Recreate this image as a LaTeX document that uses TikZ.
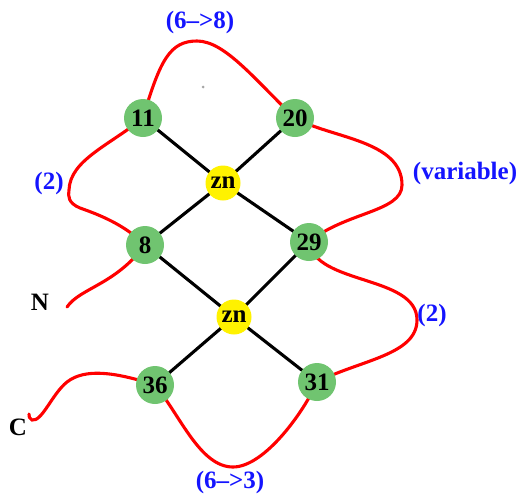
\documentclass[tikz,border=0pt]{standalone}
\usepackage{fontspec}
\setmainfont{Liberation Serif}
\definecolor{resgreen}{RGB}{112,196,112}
\definecolor{lblblue}{RGB}{20,20,255}
\definecolor{loopred}{RGB}{255,0,0}
\pgfdeclarelayer{back}
\pgfsetlayers{back,main}
\begin{document}
\begin{tikzpicture}[x=1pt,y=-1pt,
  res/.style={circle,fill=resgreen,minimum size=38pt,inner sep=0pt,font=\fontsize{25}{29}\selectfont\bfseries},
  zinc/.style={circle,fill=yellow,minimum size=35pt,inner sep=0pt,font=\fontsize{25}{29}\selectfont\bfseries},
  bond/.style={line width=3.1pt,black},
  chain/.style={line width=3.1pt,loopred,line cap=round},
  lbl/.style={text=lblblue,font=\fontsize{25}{29}\selectfont\bfseries,inner sep=0pt},
  term/.style={text=black,font=\fontsize{25}{29}\selectfont\bfseries,inner sep=0pt}]
\useasboundingbox (0,0) rectangle (518,493);
% nodes
\node[res] (n11) at (143,118) {11};
\node[res] (n20) at (295,118) {20};
\node[zinc] (zn1) at (223,183) {zn};
\node[res] (n8) at (145,245) {8};
\node[res] (n29) at (309,242) {29};
\node[zinc] (zn2) at (234,317) {zn};
\node[res] (n36) at (155,385) {36};
\node[res] (n31) at (317,382) {31};
\coordinate (Nend) at (67,307);
\coordinate (Cend) at (29,414);
\begin{pgfonlayer}{back}
\draw[chain] (Nend) .. controls (80,288) and (115,285) .. (n8.center);
\draw[chain] (n8.center) .. controls (125,225) and (100,215) .. (80,208)
   .. controls (68,203) and (68,196) .. (69,190)
   .. controls (70,160) and (110,145) .. (n11.center);
\draw[chain] (n11.center) .. controls (160,60) and (170,41) .. (197,41)
   .. controls (225,41) and (255,80) .. (n20.center);
\draw[chain] (n20.center) .. controls (330,138) and (402,140) .. (402,185)
   .. controls (402,212) and (345,212) .. (n29.center);
\draw[chain] (n29.center) .. controls (315,285) and (417,275) .. (417,320)
   .. controls (417,355) and (360,360) .. (n31.center);
\draw[chain] (n31.center) .. controls (305,410) and (265,467) .. (233,467)
   .. controls (200,467) and (180,415) .. (n36.center);
\draw[chain] (n36.center) .. controls (115,372) and (85,368) .. (67,382)
   .. controls (52,394) and (42,422) .. (32,420)
   .. controls (29,419) and (29,416) .. (Cend);
\draw[bond] (n11.center) -- (zn1.center);
\draw[bond] (n20.center) -- (zn1.center);
\draw[bond] (zn1.center) -- (n8.center);
\draw[bond] (zn1.center) -- (n29.center);
\draw[bond] (n8.center) -- (zn2.center);
\draw[bond] (n29.center) -- (zn2.center);
\draw[bond] (zn2.center) -- (n36.center);
\draw[bond] (zn2.center) -- (n31.center);
\end{pgfonlayer}
% labels
\node[lbl] (l68) at (200,22) {(6–>8)};
\node[lbl] (l2a) at (49,183) {(2)};
\node[lbl] (lvar) at (465,173) {(variable)};
\node[lbl] (l2b) at (432,315) {(2)};
\node[lbl] (l63) at (230,482) {(6–>3)};
\node[term] (lN) at (40,302) {N};
\node[term] (lC) at (18,427) {C};
\fill[gray!70] (203,87) circle (1.5pt);
\end{tikzpicture}
\end{document}
